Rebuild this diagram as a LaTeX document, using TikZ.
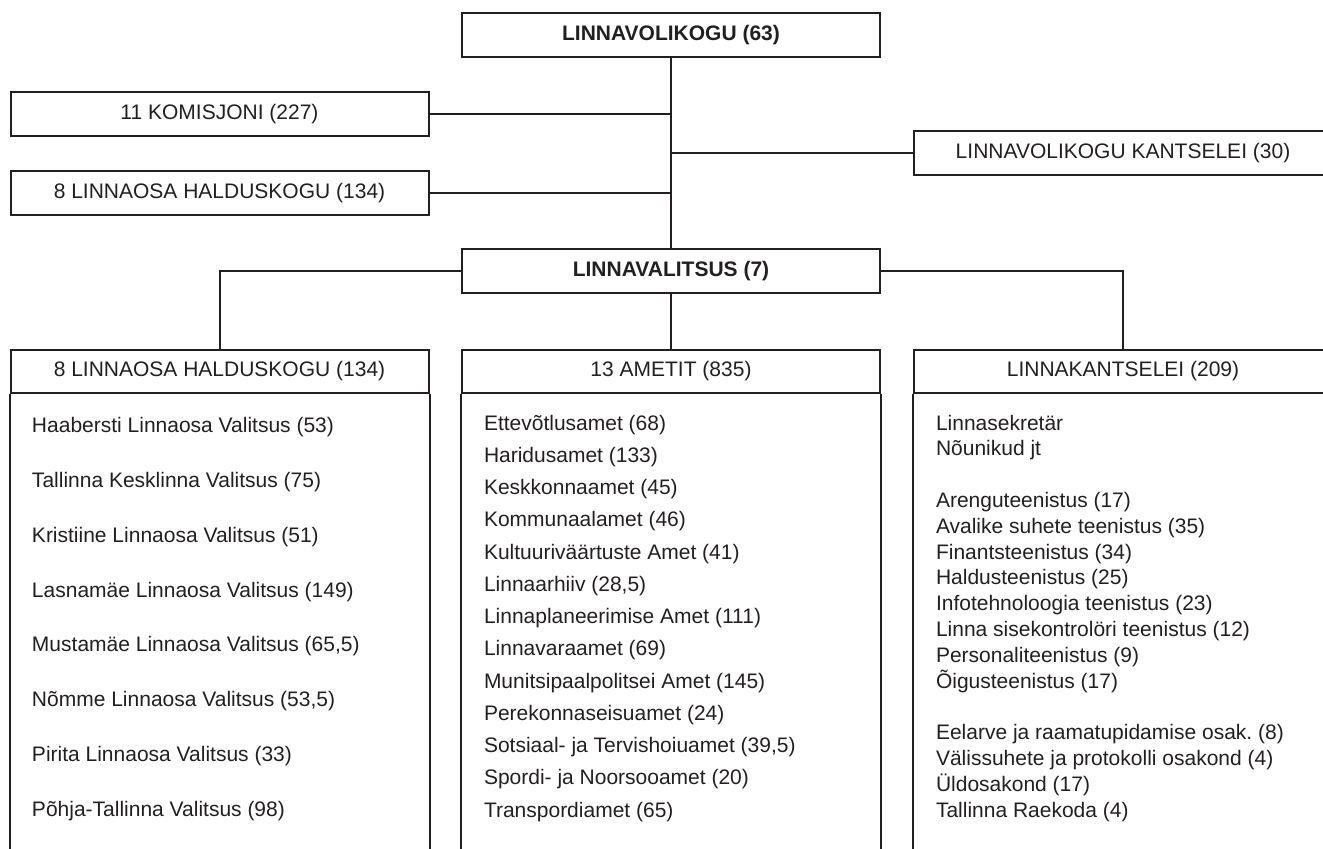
\documentclass[tikz,border=0pt]{standalone}
\usepackage{fontspec}
\setmainfont{Liberation Sans}
\usetikzlibrary{positioning}
\definecolor{orgink}{RGB}{35,31,32}
\frenchspacing

\begin{document}
\begin{tikzpicture}[x=0.5pt, y=-0.5pt, line width=1pt, draw=orgink, text=orgink,
    orgbox/.style={draw=orgink, fill=white, minimum width=209pt, minimum height=22pt, inner sep=0pt,
        font=\fontsize{10.5}{12}\selectfont},
    colhead/.style={orgbox, minimum height=21.5pt},
    unitlist/.style={anchor=base west, align=left, inner sep=0pt}]
    \useasboundingbox (0,0) rectangle (1323,849);

    % council level
    \node[orgbox, font=\fontsize{10.5}{12}\selectfont\bfseries] (volikogu) at (671,35) {LINNAVOLIKOGU (63)};
    \node[orgbox] (komisjon) at (219.5,114) {11 KOMISJONI (227)};
    \node[orgbox] (volkants) at (1123,153) {LINNAVOLIKOGU KANTSELEI (30)};
    \node[orgbox] (haldkogu) at (219.5,193) {8 LINNAOSA HALDUSKOGU (134)};
    \node[orgbox, font=\fontsize{10.5}{12}\selectfont\bfseries] (valitsus) at (671,271.5) {LINNAVALITSUS (7)};

    \draw (volikogu) -- (valitsus);
    \draw (komisjon.east) -- (komisjon.east -| volikogu.south);
    \draw (haldkogu.east) -- (haldkogu.east -| volikogu.south);
    \draw (volkants.west) -- (volkants.west -| volikogu.south);

    % government level
    \node[colhead] (linnaosad) at (219.5,371.5) {8 LINNAOSA HALDUSKOGU (134)};
    \node[colhead] (ametid) at (671,371.5) {13 AMETIT (835)};
    \node[colhead] (kantselei) at (1123,371.5) {LINNAKANTSELEI (209)};

    \draw (valitsus.west) -| (linnaosad.north);
    \draw (valitsus) -- (ametid);
    \draw (valitsus.east) -| (kantselei.north);

    \draw (linnaosad.south west) -- ++(0,470) (linnaosad.south east) -- ++(0,470);
    \draw (ametid.south west) -- ++(0,470) (ametid.south east) -- ++(0,470);
    \draw (kantselei.south west) -- ++(0,470);

    % unit lists (anchored at the last line)
    \node[unitlist, font=\fontsize{10.5}{27.36}\selectfont] (osaList) at (31,816) {%
        Haabersti Linnaosa Valitsus (53)\\
        Tallinna Kesklinna Valitsus (75)\\
        Kristiine Linnaosa Valitsus (51)\\
        Lasnamäe Linnaosa Valitsus (149)\\
        Mustamäe Linnaosa Valitsus (65,5)\\
        Nõmme Linnaosa Valitsus (53,5)\\
        Pirita Linnaosa Valitsus (33)\\
        Põhja-Tallinna Valitsus (98)};
    \node[unitlist, font=\fontsize{10.5}{16.12}\selectfont] (ametList) at (483,817) {%
        Ettevõtlusamet (68)\\
        Haridusamet (133)\\
        Keskkonnaamet (45)\\
        Kommunaalamet (46)\\
        Kultuuriväärtuste Amet (41)\\
        Linnaarhiiv (28,5)\\
        Linnaplaneerimise Amet (111)\\
        Linnavaraamet (69)\\
        Munitsipaalpolitsei Amet (145)\\
        Perekonnaseisuamet (24)\\
        Sotsiaal- ja Tervishoiuamet (39,5)\\
        Spordi- ja Noorsooamet (20)\\
        Transpordiamet (65)};
    \node[unitlist, font=\fontsize{10.5}{12.9}\selectfont] (kantsList) at (935,817) {%
        Linnasekretär\\
        Nõunikud jt\\[12.9pt]
        Arenguteenistus (17)\\
        Avalike suhete teenistus (35)\\
        Finantsteenistus (34)\\
        Haldusteenistus (25)\\
        Infotehnoloogia teenistus (23)\\
        Linna sisekontrolöri teenistus (12)\\
        Personaliteenistus (9)\\
        Õigusteenistus (17)\\[12.9pt]
        Eelarve ja raamatupidamise osak. (8)\\
        Välissuhete ja protokolli osakond (4)\\
        Üldosakond (17)\\
        Tallinna Raekoda (4)};
\end{tikzpicture}
\end{document}
